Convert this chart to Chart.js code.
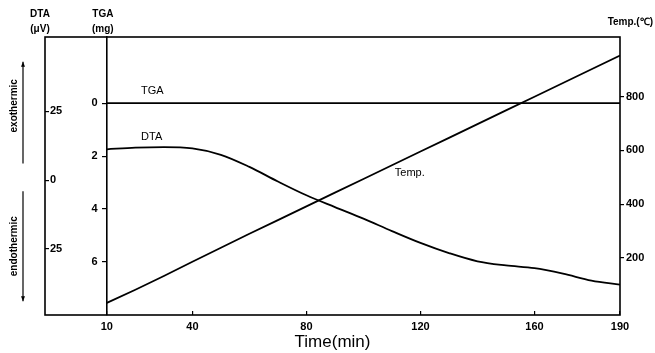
<!DOCTYPE html>
<html lang="en">
<head>
  <meta charset="UTF-8">
  <title>DTA / TGA</title>
  <script src="https://cdn.jsdelivr.net/npm/chart.js"></script>
  <style>
    body { margin: 0; background: #fff; }
    #wrap { position: relative; width: 655px; height: 353px; }
  </style>
</head>
<body>
  <div id="wrap">
    <canvas id="myChart"></canvas>
  </div>

<script>
  // time (min)
  const tempos = [10, 20, 30, 40, 50, 60, 70, 80, 90, 100, 110, 120, 130, 140, 150, 160, 170, 180, 190];
  // DTA (uV)
  const dta = [11.2, 11.8, 12.0, 11.5, 9.2, 4.8, -0.5, -5.5, -9.8, -14.0, -18.5, -22.8, -26.5, -29.5, -31.0, -32.0, -34.0, -36.5, -38.0];
  // TGA (mg)
  const tga = [0, 0, 0, 0, 0, 0, 0, 0, 0, 0, 0, 0, 0, 0, 0, 0, 0, 0, 0];
  // temperature (C)
  const temperatura = [33, 82, 133, 186, 238, 290, 341, 392, 443, 494, 545, 596, 647, 698, 749, 800, 851, 902, 953];

  const xTicks = [10, 40, 80, 120, 160, 190];
  const tgaTicks = [0, 2, 4, 6];
  const dtaTicks = [25, 0, -25];
  const tempTicks = [200, 400, 600, 800];

  // labels beside the curves
  const rotulos = [
    { texto: 'TGA', eixo: 'tga', t: 22, v: -0.45 },
    { texto: 'DTA', eixo: 'dta', t: 22, v: 15.5 },
    { texto: 'Temp.', eixo: 'temp', t: 111, v: 515 }
  ];

  const fonte = "'Liberation Sans', Arial, sans-serif";

  function pontos(ys) {
    return tempos.map((t, i) => ({ x: t, y: ys[i] }));
  }

  const decor = {
    id: 'decor',
    afterDraw(chart) {
      const { ctx, chartArea: a, scales } = chart;
      ctx.save();
      ctx.strokeStyle = '#000';
      ctx.lineWidth = 1.6;
      ctx.strokeRect(a.left, a.top, a.right - a.left, a.bottom - a.top);

      ctx.fillStyle = '#000';
      ctx.textAlign = 'center';
      ctx.textBaseline = 'middle';

      // headers
      const xTga = scales.x.getPixelForValue(10);
      ctx.font = 'bold 10px ' + fonte;
      ctx.fillText('DTA', a.left - 5, 14);
      ctx.fillText('(\u03BCV)', a.left - 5, 29);
      ctx.fillText('TGA', xTga - 4, 14);
      ctx.fillText('(mg)', xTga - 4, 29);
      ctx.textAlign = 'right';
      ctx.fillText('Temp.(\u2103)', 653, 22);

      // curve labels
      ctx.font = '11px ' + fonte;
      ctx.textAlign = 'left';
      rotulos.forEach(r => {
        ctx.fillText(r.texto, scales.x.getPixelForValue(r.t), scales[r.eixo].getPixelForValue(r.v));
      });

      // exothermic / endothermic
      const d = scales.dta;
      const seta = (y0, y1) => {
        ctx.beginPath();
        ctx.moveTo(23, y0);
        ctx.lineTo(23, y1);
        ctx.stroke();
        const s = y1 < y0 ? 1 : -1;
        ctx.beginPath();
        ctx.moveTo(23, y1);
        ctx.lineTo(21, y1 + 5 * s);
        ctx.lineTo(25, y1 + 5 * s);
        ctx.closePath();
        ctx.fill();
      };
      ctx.lineWidth = 1.2;
      seta(d.getPixelForValue(6), d.getPixelForValue(43));
      seta(d.getPixelForValue(-4), d.getPixelForValue(-44));

      ctx.font = 'bold 10px ' + fonte;
      ctx.textAlign = 'center';
      const vertical = (txt, y) => {
        ctx.save();
        ctx.translate(14, y);
        ctx.rotate(-Math.PI / 2);
        ctx.fillText(txt, 0, 0);
        ctx.restore();
      };
      vertical('exothermic', d.getPixelForValue(27));
      vertical('endothermic', d.getPixelForValue(-24));
      ctx.restore();
    }
  };

  const ticksFont = { family: fonte, size: 11, weight: 'bold' };

  new Chart(document.getElementById('myChart'), {
    type: 'line',
    data: {
      datasets: [
        { label: 'TGA', data: pontos(tga), yAxisID: 'tga', borderColor: '#000', borderWidth: 1.8, pointRadius: 0 },
        { label: 'DTA', data: pontos(dta), yAxisID: 'dta', borderColor: '#000', borderWidth: 1.8, pointRadius: 0, cubicInterpolationMode: 'monotone' },
        { label: 'Temp.', data: pontos(temperatura), yAxisID: 'temp', borderColor: '#000', borderWidth: 1.8, pointRadius: 0 }
      ]
    },
    options: {
      responsive: true,
      maintainAspectRatio: false,
      animation: false,
      layout: { padding: { left: 45, top: 37, right: 0, bottom: 0 } },
      plugins: { legend: { display: false }, tooltip: { enabled: false } },
      scales: {
        x: {
          type: 'linear', min: -11.7, max: 190,
          afterBuildTicks: s => { s.ticks = xTicks.map(v => ({ value: v })); },
          grid: { drawOnChartArea: false, tickLength: -4, color: '#000', lineWidth: 1.2 },
          border: { display: false },
          ticks: { font: ticksFont, color: '#000', padding: 9, maxRotation: 0 },
          title: { display: true, text: 'Time(min)', color: '#000', font: { family: fonte, size: 17 }, padding: 0 },
          afterFit: s => { s.height = 38; }
        },
        tga: {
          position: { x: 10 }, reverse: true, min: -2.5, max: 8,
          afterBuildTicks: s => { s.ticks = tgaTicks.map(v => ({ value: v })); },
          grid: { drawOnChartArea: false, tickLength: 4, color: '#000', lineWidth: 1.2 },
          border: { color: '#000', width: 1.6 },
          // labels of an axis placed at a value sit on the line, so push them left
          ticks: { font: ticksFont, color: '#000', callback: v => v + '   ' }
        },
        dta: {
          position: 'left', min: -49, max: 52,
          afterBuildTicks: s => { s.ticks = dtaTicks.map(v => ({ value: v })); },
          grid: { drawOnChartArea: false, tickLength: -4, color: '#000', lineWidth: 1.2 },
          border: { display: false },
          ticks: { font: ticksFont, color: '#000', mirror: true, padding: 5, callback: v => Math.abs(v) },
          afterFit: s => { s.width = 0; }
        },
        temp: {
          position: 'right', min: -12, max: 1022,
          afterBuildTicks: s => { s.ticks = tempTicks.map(v => ({ value: v })); },
          grid: { drawOnChartArea: false, tickLength: 4, color: '#000', lineWidth: 1.2 },
          border: { display: false },
          ticks: { font: ticksFont, color: '#000', padding: 2 },
          afterFit: s => { s.width = 35; }
        }
      }
    },
    plugins: [decor]
  });
</script>
</body>
</html>
